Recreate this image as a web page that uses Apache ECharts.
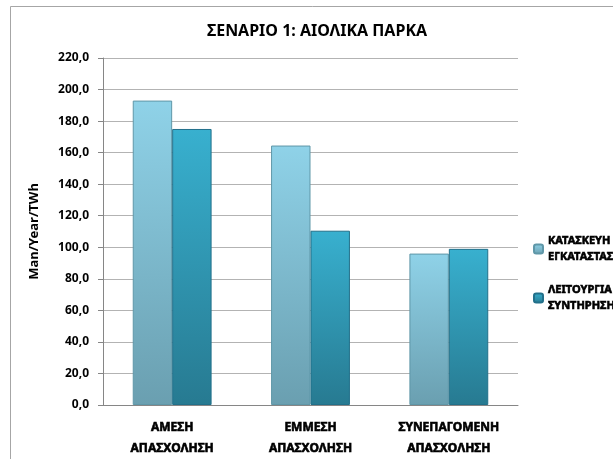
<!DOCTYPE html>
<html>
<head>
<meta charset="utf-8">
<script src="https://cdn.jsdelivr.net/npm/echarts@6/dist/echarts.min.js"></script>
<style>
  html, body { margin: 0; padding: 0; background: #fff; }
  #chart { width: 613px; height: 459px; }
</style>
</head>
<body>
<div id="chart"></div>
<script>
  // data
  const categories = ['ΑΜΕΣΗ\nΑΠΑΣΧΟΛΗΣΗ', 'ΕΜΜΕΣΗ\nΑΠΑΣΧΟΛΗΣΗ', 'ΣΥΝΕΠΑΓΟΜΕΝΗ\nΑΠΑΣΧΟΛΗΣΗ'];
  const seriesNames = ['ΚΑΤΑΣΚΕΥΗ &\nΕΓΚΑΤΑΣΤΑΣΗ', 'ΛΕΙΤΟΥΡΓΙΑ &\nΣΥΝΤΗΡΗΣΗ'];
  const constructionValues = [193.0, 164.5, 96.0];
  const operationValues = [175.0, 110.5, 99.0];

  const font = '"Noto Sans", "Open Sans", sans-serif';

  let chart = echarts.init(document.getElementById('chart'));

  let grad = (top, bottom) => new echarts.graphic.LinearGradient(0, 0, 0, 1, [
    { offset: 0, color: top },
    { offset: 1, color: bottom }
  ]);

  // thin outline in text colour so the small greek labels read as bold
  const boldText = { fontFamily: font, fontWeight: 'bold', color: '#000', textBorderColor: '#000', textBorderWidth: 0.6 };

  let option = {
    animation: false,
    backgroundColor: '#fff',
    textStyle: { fontFamily: font },
    graphic: [{
      type: 'rect',
      shape: { x: 10.5, y: 6.5, width: 620, height: 470 },
      style: { fill: 'none', stroke: '#a6a6a6', lineWidth: 1 },
      silent: true
    }],
    title: {
      text: 'ΣΕΝΑΡΙΟ 1: ΑΙΟΛΙΚΑ ΠΑΡΚΑ',
      left: 312,
      textAlign: 'center',
      top: 18,
      textStyle: { fontFamily: font, fontSize: 16, fontWeight: 'bold', color: '#000' }
    },
    legend: {
      orient: 'vertical',
      left: 528,
      top: 228,
      itemWidth: 9,
      itemHeight: 9,
      itemGap: 17,
      textStyle: Object.assign({ fontSize: 11, lineHeight: 16 }, boldText),
      data: seriesNames
    },
    grid: {//plot area
      left: 103,
      right: 95,
      top: 58,
      bottom: 53,
      containLabel: false
    },
    xAxis: [{
      type: 'category',
      data: categories,
      axisLine: { lineStyle: { color: '#868686' } },
      axisTick: { show: false },
      axisLabel: Object.assign({
        margin: 12,
        fontSize: 12,
        lineHeight: 21,
        interval: 0
      }, boldText)
    }],
    yAxis: [{
      type: 'value',
      name: 'Man/Year/TWh',
      nameLocation: 'middle',
      nameGap: 62,
      nameTextStyle: { fontFamily: font, fontSize: 13, fontWeight: 'bold', color: '#000' },
      min: 0,
      max: 220,
      interval: 20,
      axisLine: { show: true, lineStyle: { color: '#868686' } },
      axisTick: { show: true, length: 5, lineStyle: { color: '#868686' } },
      splitLine: { lineStyle: { color: '#b3b3b3' } },
      axisLabel: {
        margin: 14,
        fontFamily: font,
        fontSize: 12,
        fontWeight: 'bold',
        color: '#000',
        formatter: v => v.toFixed(1).replace('.', ',')
      }
    }],
    series: [{
        name: seriesNames[0],
        type: 'bar',
        barGap: '0%',
        barCategoryGap: '43%',
        itemStyle: {
          color: grad('#8fd2e8', '#6a9fb0'),
          borderColor: '#5f97a8',
          borderWidth: 1
        },
        data: constructionValues
      },
      {
        name: seriesNames[1],
        type: 'bar',
        itemStyle: {
          color: grad('#38b0cf', '#277a91'),
          borderColor: '#22708a',
          borderWidth: 1
        },
        data: operationValues
      }
    ]
  };
  chart.setOption(option);
</script>
</body>
</html>
